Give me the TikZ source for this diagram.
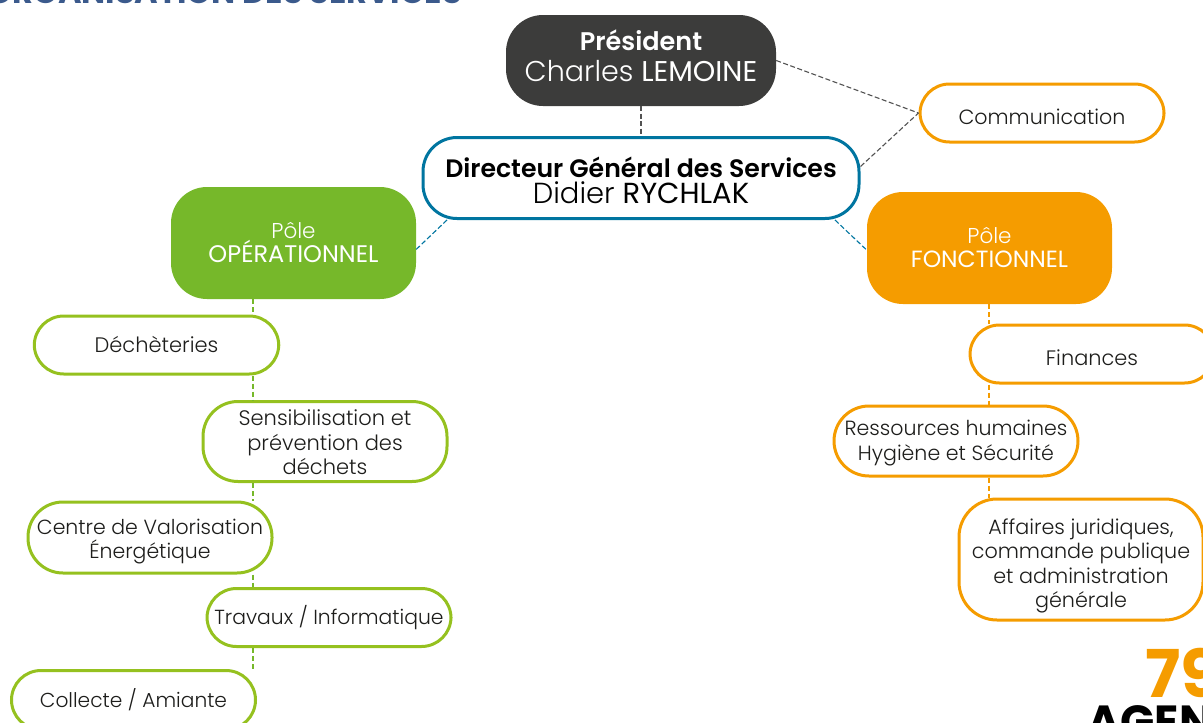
\documentclass[tikz,border=0pt]{standalone}
\usepackage{fontspec}
\setmainfont{Poppins}[UprightFont=* Light,BoldFont=* SemiBold]
\newfontfamily\medfont{Poppins}[UprightFont=*]
\newfontfamily\heavyfont{Poppins}[UprightFont=* Bold]
\definecolor{darkbox}{HTML}{3C3C3B}
\definecolor{blueline}{HTML}{0075A0}
\definecolor{orangec}{HTML}{F59C00}
\definecolor{greenfill}{HTML}{76B82A}
\definecolor{greenline}{HTML}{95C11F}
\definecolor{titleblue}{HTML}{3B5A8C}
\definecolor{inkc}{HTML}{1D1D1B}
\newcommand\nudged[2]{\raisebox{\dimexpr-#1\relax}[\height][\depth]{\begin{tabular}{@{}c@{}}#2\end{tabular}}}
\newcommand\fs[1]{\fontsize{#1}{24.5}\selectfont}
\tikzset{
  x=1pt,y=-1pt,
  boxbase/.style={rectangle,inner sep=0pt,font=\fontsize{20.6}{24.5}\selectfont,text=inkc},
  greenbox/.style={boxbase,draw=greenline,line width=3pt,fill=white,rounded corners=29.5pt},
  orangebox/.style={boxbase,draw=orangec,line width=3pt,fill=white,rounded corners=29.5pt},
  tallcorner/.style={rounded corners=35pt},
  polebox/.style={boxbase,rounded corners=36pt,text=white,minimum width=245pt,minimum height=112pt},
  linkgray/.style={draw=black!68,line width=1.1pt,dash pattern=on 5pt off 2.5pt},
  linkblue/.style={draw=blueline,line width=1.1pt,dash pattern=on 5pt off 2.5pt},
  linkgreen/.style={draw=greenfill,line width=1.1pt,dash pattern=on 5pt off 3pt},
  linkorange/.style={draw=orangec,line width=1.1pt,dash pattern=on 5pt off 3pt},
}
\begin{document}
\begin{tikzpicture}
\useasboundingbox (0,0) rectangle (1203,723);
\clip (0,0) rectangle (1203,723);
\node[anchor=base east,inner sep=0pt,text=titleblue,font=\heavyfont\fontsize{32}{32}\selectfont] (title) at (462,3) {ORGANISATION DES SERVICES};
\node[boxbase,fill=darkbox,rounded corners=37pt,minimum width=270pt,minimum height=91pt,text=white,font=\fontsize{25.5}{31}\selectfont] (pres) at (641,60.5) {\nudged{-1pt}{\textbf{Président}\\\fontsize{28.6}{31}\selectfont Charles {\medfont LEMOINE}}};
\node[boxbase,draw=blueline,line width=3pt,fill=white,rounded corners=34pt,minimum width=436pt,minimum height=81pt,text=black,font=\fontsize{25.2}{26}\selectfont] (dgs) at (641,178) {\nudged{6pt}{\textbf{Directeur Général des Services}\\\smash{\fontsize{29}{26}\selectfont Didier {\medfont RYCHLAK}}}};
\node[orangebox,minimum width=244pt,minimum height=58pt] (com) at (1042,113) {\nudged{7pt}{\fs{20.6}Communication}};
\node[polebox,fill=greenfill] (pop) at (293.5,243) {\nudged{2.5pt}{\fs{21.5}Pôle\\\smash{\medfont\fs{24}OPÉRATIONNEL}}};
\node[polebox,fill=orangec] (pfn) at (989.5,248) {\nudged{2.5pt}{\fs{21.5}Pôle\\\smash{\medfont\fs{23.5}FONCTIONNEL}}};
\node[greenbox,minimum width=244.5pt,minimum height=58pt] (dech) at (156.5,345) {\nudged{3pt}{\fs{21}Déchèteries}};
\node[greenbox,tallcorner,minimum width=244pt,minimum height=80pt] (sens) at (325,441.5) {\nudged{4pt}{\fs{21}Sensibilisation et\\\fs{21}prévention des\\\fs{21}déchets}};
\node[greenbox,tallcorner,minimum width=244pt,minimum height=71pt] (cve) at (150,537.5) {\nudged{4pt}{\fs{20.45}Centre de Valorisation\\\smash{\fs{20.45}Énergétique}}};
\node[greenbox,minimum width=244pt,minimum height=58pt] (trav) at (329,617.5) {\fs{20.35}Travaux / Informatique};
\node[greenbox,minimum width=244pt,minimum height=59pt] (coll) at (133.5,700) {\fs{20.2}Collecte / Amiante};
\node[orangebox,minimum width=244pt,minimum height=58pt] (fin) at (1092,354) {\nudged{6.5pt}{\fs{20.9}Finances}};
\node[orangebox,tallcorner,minimum width=244pt,minimum height=70pt] (rh) at (956,441) {\nudged{2pt}{\fs{20.55}Ressources humaines\\\fs{20.55}Hygiène et Sécurité}};
\node[orangebox,minimum width=244pt,minimum height=121pt,rounded corners=38pt] (aff) at (1081,559.5) {\nudged{6.5pt}{\fs{20.7}Affaires juridiques,\\\fs{20.7}commande publique\\\fs{20.7}et administration\\\fs{20.7}générale}};
\node[anchor=base west,inner sep=0pt,text=orangec,font=\heavyfont\fontsize{66}{66}\selectfont] (nb) at (1145,697) {79};
\node[anchor=base west,inner sep=0pt,text=black,font=\heavyfont\fontsize{45}{45}\selectfont] (ag) at (1087,737) {AGENTS};
\coordinate (vo) at (253,0);
\coordinate (vf) at (989,0);
\coordinate (bl) at (447,0);
\coordinate (br) at (835,0);
\draw[linkgray] (pres.south) -- (dgs.north);
\draw[linkgray] (pres.east) -- (com.west);
\draw[linkgray] (dgs.3) -- (com.west);
\draw[linkblue] (dgs.south -| bl) -- (pop.-3);
\draw[linkblue] (dgs.south -| br) -- (pfn.181);
\draw[linkgreen] (pop.south -| vo) -- (dech.north -| vo);
\draw[linkgreen] (dech.south -| vo) -- (sens.north -| vo);
\draw[linkgreen] (sens.south -| vo) -- (cve.north -| vo);
\draw[linkgreen] (cve.south -| vo) -- (trav.north -| vo);
\draw[linkgreen] (trav.south -| vo) -- (coll.north -| vo);
\draw[linkorange] (pfn.south -| vf) -- (fin.north -| vf);
\draw[linkorange] (fin.south -| vf) -- (rh.north -| vf);
\draw[linkorange] (rh.south -| vf) -- (aff.north -| vf);
\end{tikzpicture}
\end{document}
